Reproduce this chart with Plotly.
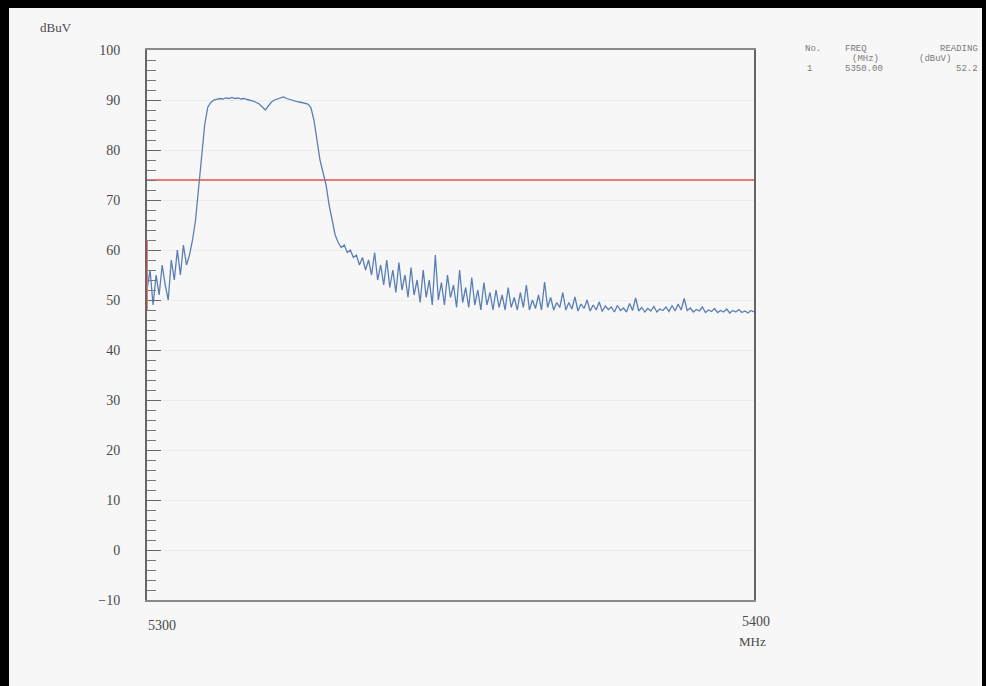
import plotly.graph_objects as go

# ---------------- data ----------------
freq_start_mhz = 5300.0
freq_step_mhz = 0.5
level_dbuv = [
    52, 56, 49, 55, 51, 57, 53, 50, 58, 54,
    60, 55, 61, 57, 59, 62, 66, 72, 79, 85,
    88.5, 89.5, 90, 90.2, 90.3, 90.2, 90.4, 90.3, 90.5, 90.3,
    90.4, 90.2, 90.3, 90.1, 90.0, 89.8, 89.5, 89.2, 88.6, 88.0,
    88.8, 89.6, 90.0, 90.2, 90.4, 90.6, 90.3, 90.1, 89.9, 89.7,
    89.6, 89.5, 89.4, 89.2, 88.5, 86, 82, 78, 75.5, 73,
    69, 66, 63, 61.5, 60.5, 61, 59.5, 60, 58.5, 59,
    57, 58.5, 56, 58, 55, 59.5, 54, 57, 53, 58,
    52.5, 56, 51.5, 57.5, 52, 55, 50.5, 56.5, 51, 54,
    49.5, 56, 50.5, 54, 49, 59, 50, 53.5, 49, 55,
    50.5, 53, 48.5, 56, 49.5, 52.5, 48.5, 54.5, 49, 52,
    48, 53.5, 49, 51.5, 48, 52, 48.5, 51, 48, 52.5,
    48.5, 50.5, 48, 51.5, 48.5, 53, 48, 50, 48.3, 51,
    48, 53.6, 48.5, 50.5, 48, 49.5, 48.5, 51.5, 48, 49.5,
    48.2, 50.6, 47.8, 49.2, 48.3, 50, 47.8, 49, 48, 49.6,
    47.7, 48.8, 48.1, 48.6, 47.6, 48.9, 47.9, 48.4, 47.6, 49.3,
    47.9, 50.4, 47.8, 48.5, 47.6, 48.3, 47.8, 48.7, 47.6, 48.2,
    47.9, 48.6, 47.7, 48.9, 47.8, 49.2, 48.0, 50.3, 47.9, 48.4,
    47.6, 48.1, 47.8, 48.6, 47.5, 48.0, 47.7, 48.3, 47.5, 47.9,
    47.6, 48.2, 47.4, 47.9, 47.6, 48.1, 47.5, 47.8, 47.4, 47.9,
    47.6,
]
freq_mhz = [freq_start_mhz + freq_step_mhz * i for i in range(len(level_dbuv))]

limit_freq = [5300, 5400]
limit_level = [74, 74]

y_ticks = [-10, 0, 10, 20, 30, 40, 50, 60, 70, 80, 90, 100]
x_tick_labels = ["5300", "5400"]

table_rows = [
    ["No.", "FREQ", "READING"],
    ["", "(MHz)", "(dBuV)"],
    ["1", "5350.00", "52.2"],
]

# ---------------- layout helpers ----------------
W, H = 986, 686
L, R, T, B = 147, 754, 50, 600


def px(xp):
    return (xp - L) / (R - L)


def py(yp):
    return (B - yp) / (B - T)


fig = go.Figure()
fig.add_trace(go.Scatter(x=limit_freq, y=limit_level, mode="lines",
                         line=dict(color="#e77a74", width=2), hoverinfo="skip"))
fig.add_trace(go.Scatter(x=freq_mhz, y=level_dbuv, mode="lines",
                         line=dict(color="#5b7fb5", width=1.3)))

serif = "Liberation Serif"
grey = "#4a4a4a"

fig.update_layout(
    width=W, height=H,
    margin=dict(l=L, r=W - R, t=T, b=H - B),
    paper_bgcolor="#f7f7f7", plot_bgcolor="#f7f7f7",
    showlegend=False,
    xaxis=dict(range=[5300, 5400], showgrid=False, zeroline=False,
               showline=True, linecolor="#8a8a8a", linewidth=2, mirror=True,
               showticklabels=False, ticks=""),
    yaxis=dict(range=[-10, 100], tickvals=y_ticks, showgrid=True,
               gridcolor="#ececec", gridwidth=1, zeroline=False,
               showline=True, linecolor="#666666", linewidth=2, mirror=True,
               ticks="inside", ticklen=14, tickcolor="#666666", tickwidth=1,
               minor=dict(dtick=2, ticks="inside", ticklen=9, tickcolor="#777777", showgrid=False),
               ticklabelstandoff=22,
               tickfont=dict(family=serif, size=14, color=grey)),
)

ann = []
ann.append(dict(xref="paper", yref="paper", x=px(38), y=py(27), text="dBuV",
                showarrow=False, xanchor="left", yanchor="middle",
                font=dict(family=serif, size=13, color=grey)))
ann.append(dict(xref="paper", yref="paper", x=px(162), y=py(625), text=x_tick_labels[0],
                showarrow=False, xanchor="center", yanchor="middle",
                font=dict(family=serif, size=14, color=grey)))
ann.append(dict(xref="paper", yref="paper", x=px(756), y=py(621), text=x_tick_labels[1],
                showarrow=False, xanchor="center", yanchor="middle",
                font=dict(family=serif, size=14, color=grey)))
ann.append(dict(xref="paper", yref="paper", x=px(752), y=py(641), text="MHz",
                showarrow=False, xanchor="center", yanchor="middle",
                font=dict(family=serif, size=13, color=grey)))

mono = dict(family="Liberation Mono", size=9, color="#7a7a7a")
table_pos = [
    [(803, 49, "left"), (843, 49, "left"), (980, 49, "right")],
    [None, (850, 59, "left"), (917, 59, "left")],
    [(805, 69, "left"), (843, 69, "left"), (980, 69, "right")],
]
for r, row in enumerate(table_rows):
    for c, txt in enumerate(row):
        pos = table_pos[r][c]
        if not txt or pos is None:
            continue
        ann.append(dict(xref="paper", yref="paper", x=px(pos[0]), y=py(pos[1]), text=txt,
                        showarrow=False, xanchor=pos[2], yanchor="middle", font=mono))
fig.update_layout(annotations=ann)

shapes = [
    # scan frame
    dict(type="rect", xref="paper", yref="paper", x0=px(0), x1=px(9), y0=py(H), y1=py(0),
         fillcolor="black", line=dict(width=0), layer="above"),
    dict(type="rect", xref="paper", yref="paper", x0=px(0), x1=px(W), y0=py(8), y1=py(0),
         fillcolor="black", line=dict(width=0), layer="above"),
    dict(type="rect", xref="paper", yref="paper", x0=px(982), x1=px(W), y0=py(H), y1=py(0),
         fillcolor="black", line=dict(width=0), layer="above"),
    # red marker on the left axis
    dict(type="line", xref="x", yref="y", x0=5300, x1=5300, y0=48, y1=62,
         line=dict(color="#e77a74", width=2)),
]
fig.update_layout(shapes=shapes)

fig.write_html("out.html", config={"displayModeBar": False},
               post_script="document.body.style.margin='0';document.body.style.overflow='hidden';")
